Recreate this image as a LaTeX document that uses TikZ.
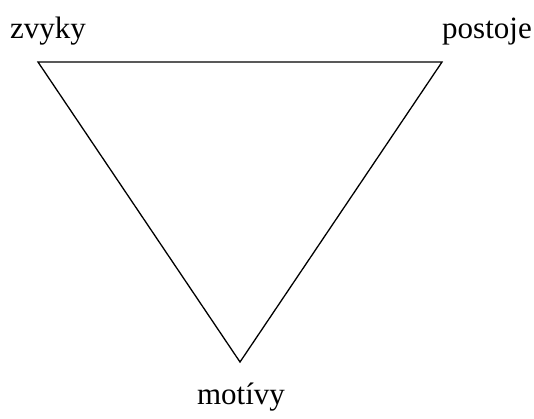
\documentclass[tikz,border=0pt]{standalone}
\usepackage{fontspec}
\setmainfont{Liberation Serif}
\tikzset{lbl/.style={inner sep=0pt,font=\fontsize{31}{34}\selectfont}}
\begin{document}
\begin{tikzpicture}[x=1pt,y=-1pt]
\useasboundingbox (0,0) rectangle (534,418);
\coordinate (A) at (38,62);
\coordinate (B) at (442,62);
\coordinate (C) at (240,362);
\draw[line width=1.3pt,line join=miter] (A) -- (B) -- (C) -- cycle;
\node[lbl,anchor=base] (z) at (48,38) {zvyky};
\node[lbl,anchor=base] (p) at (487,38) {postoje};
\node[lbl,anchor=base] (m) at (241,404) {motívy};
\end{tikzpicture}
\end{document}
